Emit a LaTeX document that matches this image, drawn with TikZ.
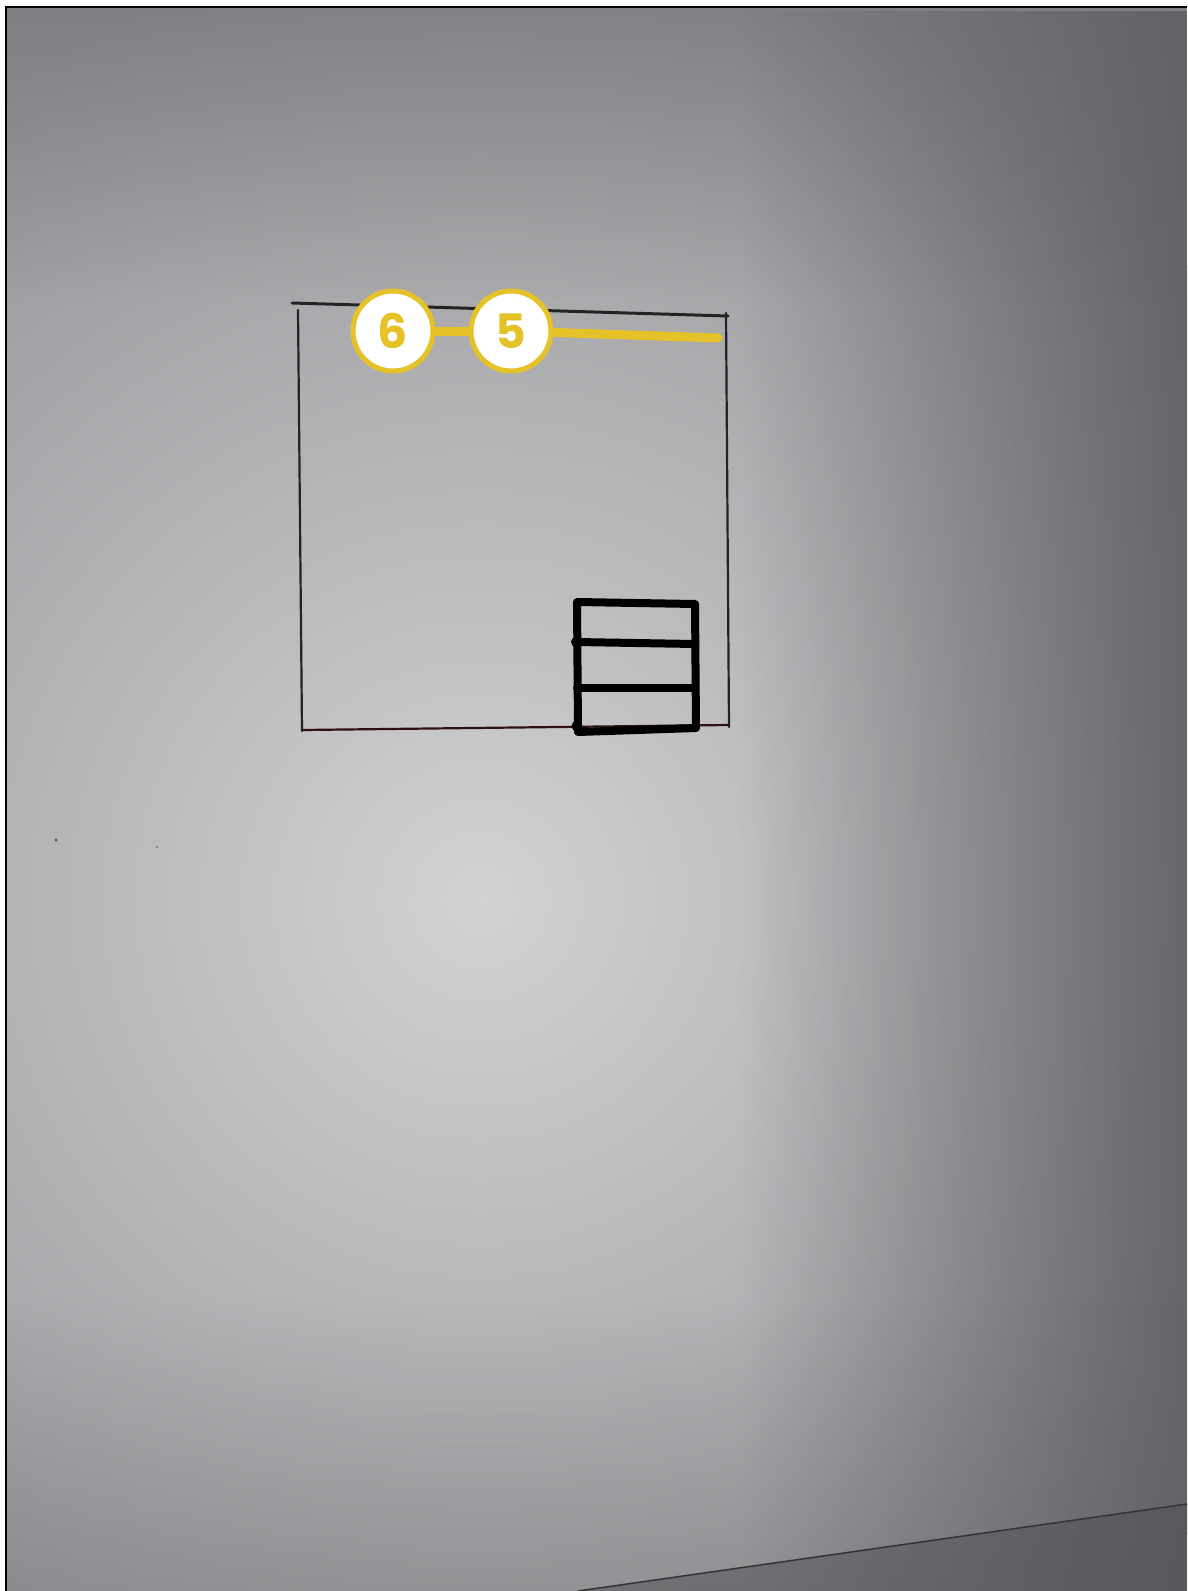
\documentclass[tikz,border=0pt]{standalone}
\usepackage{fontspec}
\usetikzlibrary{fadings}
\newfontfamily\numfont{Poppins}
\definecolor{bglight}{HTML}{D2D2D4}
\definecolor{bgmid}{HTML}{949397}
\definecolor{bgdark}{HTML}{5E5C60}
\definecolor{markyellow}{HTML}{E6C229}
\definecolor{pencil}{HTML}{252224}
\tikzset{
  marker/.style={circle, draw=markyellow, line width=5*0.02cm, fill=white, minimum size=80*0.02cm, inner sep=0pt,
    font=\numfont\bfseries\fontsize{27}{27}\selectfont, text=markyellow},
  yline/.style={draw=markyellow, line width=9*0.02cm, line cap=round},
  pencilline/.style={draw=pencil, line width=2.2*0.02cm, line cap=round},
  boxline/.style={draw=black, line width=8*0.02cm, line cap=round, line join=round}
}
\begin{document}
\begin{tikzpicture}[x=0.02cm,y=-0.02cm]
\useasboundingbox (0,0) rectangle (1187,1591);
\fill[white] (0,0) rectangle (1187,1591);
% background photo paper
\begin{scope}
\clip (7,8) rectangle (1187,1591);
\fill[bgmid] (7,8) rectangle (1187,1591);
\shade[inner color=bglight, outer color=bgmid] (480,900) circle [radius=19cm];
% darkening towards the right edge
\fill[bgdark, path fading=west, opacity=0.85] (740,8) rectangle (1187,1591);
% darkening towards the top and bottom
\fill[bgdark, path fading=south, opacity=0.35] (7,8) rectangle (1187,300);
\fill[bgdark, path fading=north, opacity=0.25] (7,1300) rectangle (1187,1591);
% darker region below table edge
\fill[bgdark!85!black, opacity=0.5] (578,1591) -- (1187,1504) -- (1187,1591) -- cycle;
\end{scope}
\draw[black, line width=0.05cm] (6,1591) -- (6,7) -- (1187,7);
\draw[black!80, line width=0.03cm] (578,1591) -- (1187,1504);
% specks
\fill[black!70] (56,840) circle [radius=0.03cm];
\fill[black!50] (157,847) circle [radius=0.025cm];
% pencil square
\coordinate (tl) at (292,303);
\coordinate (tr) at (728,316);
\coordinate (rt) at (726,313);
\coordinate (rb) at (729,727);
\coordinate (lt) at (298,310);
\coordinate (lb) at (302,731);
\coordinate (bl) at (302,730);
\coordinate (br) at (729,725);
\draw[pencilline, line width=3*0.02cm] (tl) -- (tr);
\draw[pencilline] (lt) -- (lb);
\draw[pencilline] (rt) -- (rb);
\draw[pencilline, draw=pencil!80!red!60!black] (bl) -- (br);
% box
\coordinate (b1) at (577,602);
\coordinate (b2) at (695,604);
\coordinate (b3) at (696,728);
\coordinate (b4) at (578,732);
\coordinate (m1l) at (576,642);
\coordinate (m1r) at (695,644);
\coordinate (m2l) at (577,688);
\coordinate (m2r) at (695,688);
\draw[boxline] (b1) -- (b2) -- (b3) -- (b4) -- cycle;
\draw[boxline] (m1l) -- (m1r);
\draw[boxline] (m2l) -- (m2r);
\fill[black] (576,642) circle [radius=0.1cm];
\fill[black] (577,726) circle [radius=0.11cm];
% yellow markers
\node[marker] (c6) at (393,331) {6};
\node[marker] (c5) at (511,331) {5};
\coordinate (yend) at (718,338);
\draw[yline] (c6) -- (c5);
\draw[yline] (c5) -- (yend);
\end{tikzpicture}
\end{document}
